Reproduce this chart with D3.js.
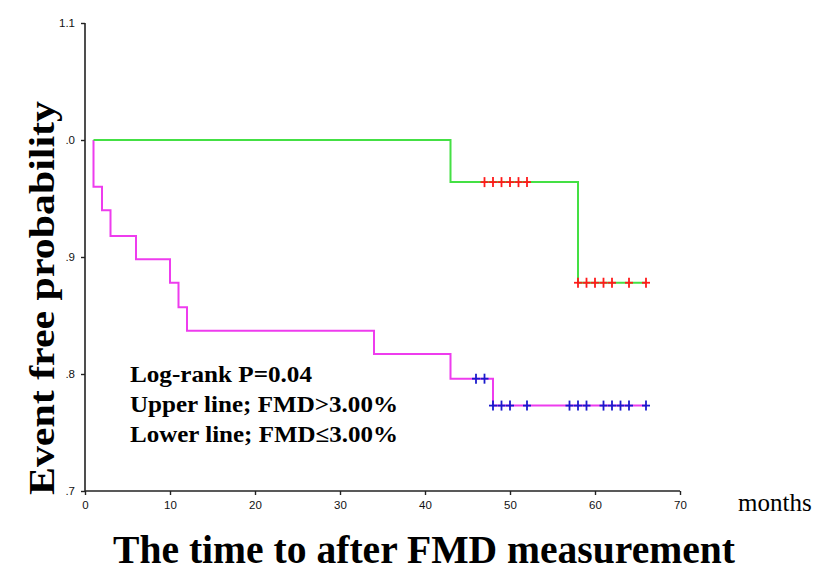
<!DOCTYPE html>
<html>
<head>
<meta charset="utf-8">
<script src="https://cdn.jsdelivr.net/npm/d3@7"></script>
<style>
body { margin: 0; background: #fff; }
</style>
</head>
<body>
<div id="chart"></div>
<script>

// Kaplan-Meier steps: [month, survival after that month]
let upperSteps = [[1, 1.0], [43, 0.964], [58, 0.878], [66, 0.878]];
let lowerSteps = [[1, 1.0], [1, 0.96], [2, 0.94], [3, 0.918], [6, 0.898], [10, 0.878], [11, 0.857], [12, 0.837], [34, 0.817], [43, 0.796], [48, 0.773], [66, 0.773]];

// censored cases
let upperCensor = [[47, 0.964], [48, 0.964], [49, 0.964], [50, 0.964], [51, 0.964], [52, 0.964],
                   [58, 0.878], [59, 0.878], [60, 0.878], [61, 0.878], [62, 0.878], [64, 0.878], [66, 0.878]];
let lowerCensor = [[46, 0.796], [47, 0.796],
                   [48, 0.773], [49, 0.773], [50, 0.773], [52, 0.773], [57, 0.773], [58, 0.773], [59, 0.773],
                   [61, 0.773], [62, 0.773], [63, 0.773], [64, 0.773], [66, 0.773]];

let xTicks = [0, 10, 20, 30, 40, 50, 60, 70];
let yTicks = [0.7, 0.8, 0.9, 1.0, 1.1];
let yTickLabels = [".7", ".8", ".9", ".0", "1.1"];

let notes = ["Log-rank P=0.04", "Upper line; FMD>3.00%", "Lower line; FMD\u22643.00%"];
let noteWidths = [182, 268, 268];

let svgWidth = 830, svgHeight = 586;
let serif = "Liberation Serif, Times New Roman, serif";
let svg = d3.select("#chart").append("svg")
    .attr("width", svgWidth)
    .attr("height", svgHeight);

let x = d3.scaleLinear().domain([0, 70]).range([85, 680]);
let y = d3.scaleLinear().domain([0.7, 1.1]).range([491, 23]);

// axes
let xAxis = svg.append("g")
    .attr("transform", "translate(0," + y(0.7) + ")")
    .call(d3.axisBottom(x).tickValues(xTicks).tickSize(4).tickPadding(6).tickFormat(d3.format("d")));

let yAxis = svg.append("g")
    .attr("transform", "translate(" + x(0) + ",0)")
    .call(d3.axisLeft(y).tickValues(yTicks).tickSize(4).tickPadding(6)
        .tickFormat(function(d, i) { return yTickLabels[i]; }));

[xAxis, yAxis].forEach(function(a) {
    a.select(".domain").attr("stroke", "#222").attr("stroke-width", 1.6);
    a.selectAll(".tick line").attr("stroke", "#222").attr("stroke-width", 1.4);
    a.selectAll(".tick text")
        .attr("font-family", "Liberation Sans, Arial, sans-serif")
        .attr("font-size", "11.5px")
        .attr("fill", "#111");
});
xAxis.select(".domain").attr("d", "M" + x(0) + ",0H" + x(70));
yAxis.select(".domain").attr("d", "M0," + y(1.1) + "V" + y(0.7));

// curves
let line = d3.line()
    .x(function(d) { return x(d[0]); })
    .y(function(d) { return y(d[1]); })
    .curve(d3.curveStepAfter);

svg.append("path")
    .datum(lowerSteps)
    .attr("d", line)
    .attr("fill", "none")
    .attr("stroke", "#ee3cee")
    .attr("stroke-width", 2);

svg.append("path")
    .datum(upperSteps)
    .attr("d", line)
    .attr("fill", "none")
    .attr("stroke", "#44e044")
    .attr("stroke-width", 2);

// censor marks
function drawCensor(data, color) {
    let g = svg.append("g").attr("stroke", color).attr("stroke-width", 1.8);
    g.selectAll(".h").data(data).enter().append("line")
        .attr("x1", function(d) { return x(d[0]) - 4; })
        .attr("x2", function(d) { return x(d[0]) + 4; })
        .attr("y1", function(d) { return y(d[1]); })
        .attr("y2", function(d) { return y(d[1]); });
    g.selectAll(".v").data(data).enter().append("line")
        .attr("x1", function(d) { return x(d[0]); })
        .attr("x2", function(d) { return x(d[0]); })
        .attr("y1", function(d) { return y(d[1]) - 5; })
        .attr("y2", function(d) { return y(d[1]) + 5; });
}
drawCensor(upperCensor, "#ff1a1a");
drawCensor(lowerCensor, "#1a1acc");

// annotation
svg.selectAll(".note")
    .data(notes)
    .enter()
    .append("text")
    .attr("x", 130)
    .attr("y", function(d, i) { return 382 + i * 30; })
    .attr("font-family", serif)
    .attr("font-weight", "bold")
    .attr("font-size", "23px")
    .attr("textLength", function(d, i) { return noteWidths[i]; })
    .attr("lengthAdjust", "spacingAndGlyphs")
    .attr("fill", "#000")
    .text(function(d) { return d; });

// axis titles
svg.append("text")
    .attr("transform", "translate(54,298) rotate(-90)")
    .attr("text-anchor", "middle")
    .attr("font-family", serif)
    .attr("font-weight", "bold")
    .attr("font-size", "35px")
    .attr("textLength", 394)
    .attr("lengthAdjust", "spacingAndGlyphs")
    .text("Event free probability");

svg.append("text")
    .attr("x", 424)
    .attr("y", 563)
    .attr("text-anchor", "middle")
    .attr("font-family", serif)
    .attr("font-weight", "bold")
    .attr("font-size", "41px")
    .attr("textLength", 622)
    .attr("lengthAdjust", "spacingAndGlyphs")
    .text("The time to after FMD measurement");

svg.append("text")
    .attr("x", 738)
    .attr("y", 511)
    .attr("font-family", serif)
    .attr("font-size", "25px")
    .text("months");

</script>
</body>
</html>
